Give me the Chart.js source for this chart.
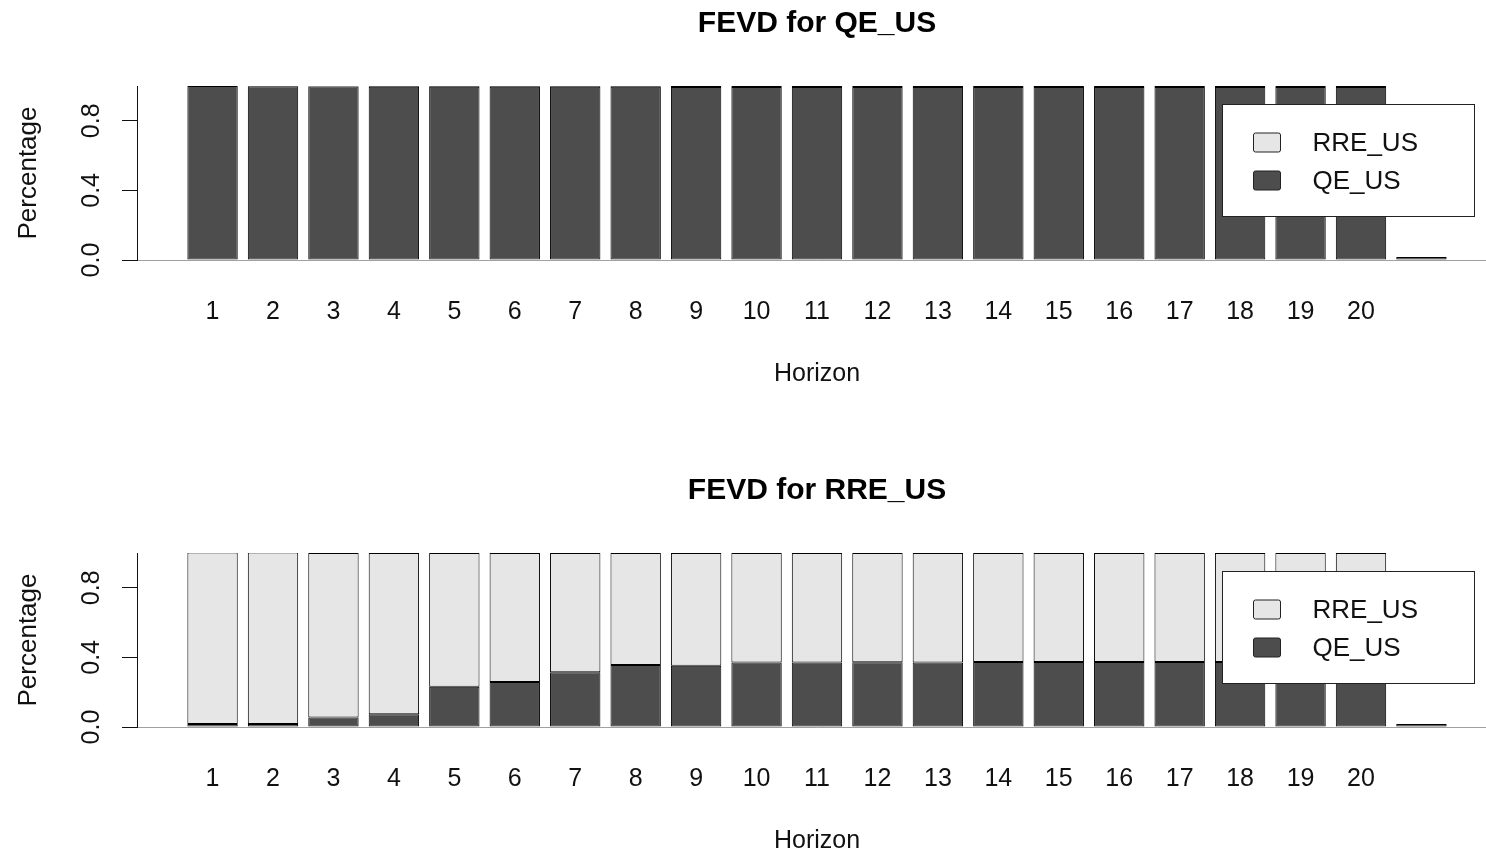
<!DOCTYPE html>
<html>
<head>
<meta charset="utf-8">
<title>FEVD</title>
<script src="https://cdn.jsdelivr.net/npm/chart.js@4.4.1/dist/chart.umd.min.js"></script>
<style>
  html, body { margin: 0; padding: 0; background: #fff; overflow: hidden; }
  #wrap { position: relative; width: 1486px; height: 855px; overflow: hidden; background: #fff; }
  .panel { position: absolute; left: 0; }
  #p1 { top: 0; }
  #p2 { top: 467px; }
  canvas { display: block; }
</style>
</head>
<body>
<div id="wrap">
  <div class="panel" id="p1"><canvas id="c1" width="1497" height="467"></canvas></div>
  <div class="panel" id="p2"><canvas id="c2" width="1497" height="388"></canvas></div>
</div>
<script>
// Forecast horizons shown on the x axis
const horizons = [1, 2, 3, 4, 5, 6, 7, 8, 9, 10, 11, 12, 13, 14, 15, 16, 17, 18, 19, 20];
// Empty slot after the last horizon (zero-height bar, leaves room for the legend)
const spacerSlot = 21;

// FEVD for QE_US: share of forecast error variance explained by each shock
const qeInQE  = [1.000, 0.998, 0.997, 0.996, 0.996, 0.995, 0.995, 0.995, 0.994, 0.994,
                 0.994, 0.994, 0.994, 0.994, 0.994, 0.994, 0.994, 0.994, 0.994, 0.994];
const rreInQE = [0.000, 0.002, 0.003, 0.004, 0.004, 0.005, 0.005, 0.005, 0.006, 0.006,
                 0.006, 0.006, 0.006, 0.006, 0.006, 0.006, 0.006, 0.006, 0.006, 0.006];

// FEVD for RRE_US
const qeInRRE  = [0.015, 0.014, 0.054, 0.073, 0.231, 0.258, 0.314, 0.356, 0.352, 0.371,
                  0.370, 0.372, 0.371, 0.373, 0.373, 0.373, 0.373, 0.373, 0.373, 0.373];
const rreInRRE = [0.985, 0.986, 0.946, 0.927, 0.769, 0.742, 0.686, 0.644, 0.648, 0.629,
                  0.630, 0.628, 0.629, 0.627, 0.627, 0.627, 0.627, 0.627, 0.627, 0.627];

// y axis ticks and the labels printed at them
const yTicks = [0, 0.2, 0.4, 0.6, 0.8, 1.0];
const yTickLabels = ['0.0', '', '0.4', '', '0.8', ''];

const FONT = "'Liberation Sans', Arial, Helvetica, sans-serif";
const DARK = '#4d4d4d';
const LIGHT = '#e6e6e6';
const OUTLINE = '#000000';

function toPoints(values) {
  const pts = horizons.map((h, i) => ({ x: h, y: values[i] }));
  pts.push({ x: spacerSlot, y: 0 });
  return pts;
}

// Framed legend in the upper right of the plotting area
const boxLegend = {
  id: 'boxLegend',
  afterDatasetsDraw(chart) {
    const { ctx, chartArea } = chart;
    const x0 = Math.round(chartArea.right - 275) + 0.5;
    const y0 = Math.round(chartArea.top + 18) + 0.5;
    const w = 252, h = 112;
    ctx.save();
    ctx.fillStyle = '#ffffff';
    ctx.fillRect(x0, y0, w, h);
    ctx.strokeStyle = '#222';
    ctx.lineWidth = 1;
    ctx.strokeRect(x0, y0, w, h);
    const items = chart.data.datasets.slice().reverse();
    ctx.font = '26px ' + FONT;
    ctx.textBaseline = 'middle';
    ctx.textAlign = 'left';
    items.forEach((ds, i) => {
      const cy = y0 + 38 + i * 38;
      ctx.beginPath();
      if (ctx.roundRect) ctx.roundRect(x0 + 31, cy - 9.5, 27, 19, 2);
      else ctx.rect(x0 + 31, cy - 9.5, 27, 19);
      ctx.fillStyle = ds.backgroundColor;
      ctx.fill();
      ctx.strokeStyle = '#222';
      ctx.stroke();
      ctx.fillStyle = '#111';
      ctx.fillText(ds.label, x0 + 90, cy + 1);
    });
    ctx.restore();
  }
};

function makePanel(canvasId, titleText, qeValues, rreValues) {
  const canvas = document.getElementById(canvasId);
  const bottomPad = canvas.height - 388;
  return new Chart(canvas, {
    type: 'bar',
    data: {
      datasets: [
        {
          label: 'QE_US',
          data: toPoints(qeValues),
          backgroundColor: DARK,
          borderColor: OUTLINE,
          borderWidth: 1,
          borderSkipped: false,
          inflateAmount: 0,
          minBarLength: 3
        },
        {
          label: 'RRE_US',
          data: toPoints(rreValues),
          backgroundColor: LIGHT,
          borderColor: OUTLINE,
          borderWidth: 1,
          borderSkipped: false,
          inflateAmount: 0
        }
      ]
    },
    options: {
      responsive: false,
      animation: false,
      devicePixelRatio: 1,
      layout: { padding: { top: 0, left: 0, right: 0, bottom: bottomPad } },
      datasets: { bar: { barPercentage: 1 / 1.2, categoryPercentage: 1.0 } },
      plugins: {
        legend: { display: false },
        tooltip: { enabled: false },
        title: {
          display: true,
          text: titleText,
          fullSize: false,
          color: '#000',
          font: { family: FONT, size: 30, weight: 'bold' },
          padding: { top: 6, bottom: 44 }
        }
      },
      scales: {
        x: {
          type: 'linear',
          offset: false,
          min: -0.25,
          max: 22.25,
          stacked: true,
          afterBuildTicks: s => { s.ticks = horizons.map(v => ({ value: v })); },
          afterFit: s => { s.height = 128; },
          grid: { display: false, offset: false },
          border: { display: true, color: '#a0a0a0', width: 1 },
          ticks: {
            autoSkip: false,
            minRotation: 0,
            maxRotation: 0,
            padding: 29,
            color: '#111',
            font: { family: FONT, size: 25 },
            callback: v => String(v)
          },
          title: {
            display: true,
            text: 'Horizon',
            color: '#111',
            font: { family: FONT, size: 25 },
            padding: { top: 0, bottom: -1 }
          }
        },
        y: {
          min: 0,
          max: 1,
          stacked: true,
          afterBuildTicks: s => { s.ticks = yTicks.map(v => ({ value: v })); },
          afterFit: s => { s.width = 137; },
          grid: { drawOnChartArea: false, drawTicks: true, tickLength: 15, tickColor: '#111', tickWidth: 1 },
          border: { display: true, color: '#111', width: 1 },
          ticks: {
            minRotation: 90,
            maxRotation: 90,
            crossAlign: 'center',
            padding: 13,
            color: '#111',
            font: { family: FONT, size: 25 },
            callback: (v, i) => yTickLabels[i]
          },
          title: {
            display: true,
            text: 'Percentage',
            color: '#111',
            font: { family: FONT, size: 26 },
            padding: { top: 13, bottom: 0 }
          }
        }
      }
    },
    plugins: [boxLegend]
  });
}

makePanel('c1', 'FEVD for QE_US', qeInQE, rreInQE);
makePanel('c2', 'FEVD for RRE_US', qeInRRE, rreInRRE);
</script>
</body>
</html>
